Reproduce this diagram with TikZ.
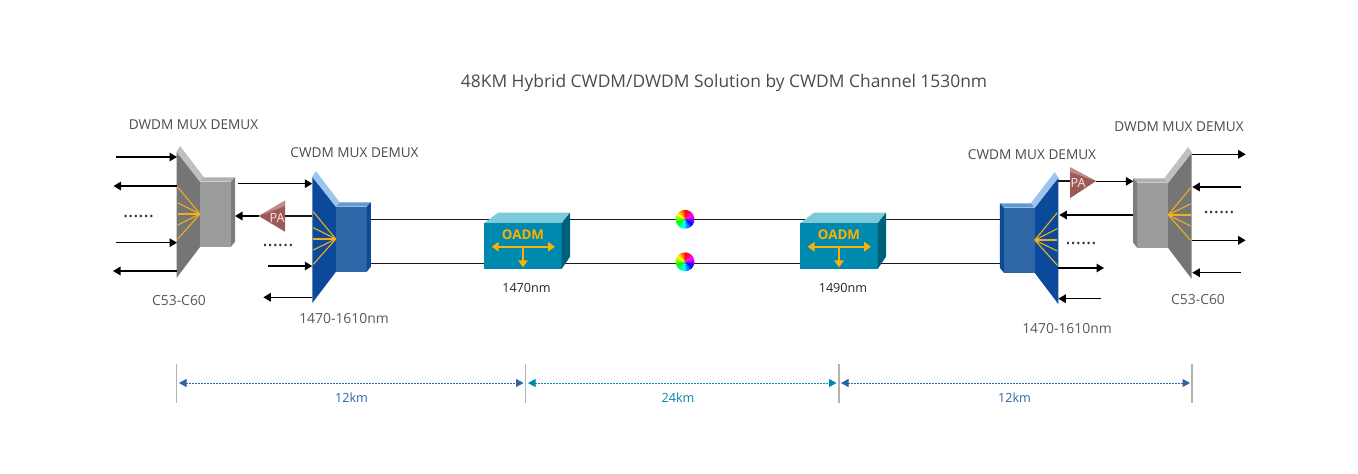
\documentclass[tikz,border=0pt]{standalone}
\usepackage{fontspec}
\setmainfont{Open Sans}
\usetikzlibrary{arrows.meta,calc}
\definecolor{rayc}{HTML}{F2AE1C}
\definecolor{oadmc}{HTML}{FDB100}
\definecolor{oadmt}{HTML}{7CCAD8}
\definecolor{txtc}{HTML}{4A4A4A}
\definecolor{kmblue}{HTML}{2F62A8}
\definecolor{kmteal}{HTML}{0089AE}
\definecolor{greya}{HTML}{757575}
\definecolor{greyb}{HTML}{C0C0C0}
\definecolor{greyc}{HTML}{9B9B9B}
\definecolor{greyd}{HTML}{B0B0B0}
\definecolor{greye}{HTML}{7D7D7D}
\definecolor{bluea}{HTML}{0B4A9A}
\definecolor{blueb}{HTML}{9CC5EE}
\definecolor{bluec}{HTML}{2F66A6}
\definecolor{blued}{HTML}{5F9AD6}
\definecolor{pac}{HTML}{9C5A57}
\definecolor{pad}{HTML}{C08A88}
\tikzset{
	sig/.style={line width=0.3mm, black, -{Triangle[length=1.5mm,width=1.7mm]}},
	fibre/.style={line width=0.35mm, black!90},
	tick/.style={line width=0.25mm, black!30},
	span/.style={line width=0.2mm, dash pattern=on 0.25mm off 0.35mm, {Triangle[length=1.5mm,width=1.6mm]}-{Triangle[length=1.5mm,width=1.6mm]}},
	head/.style={font=\fontsize{7.75}{10}\selectfont, text=txtc, inner sep=0pt},
	note/.style={font=\fontsize{7.9}{10}\selectfont, text=black!65, inner sep=0pt},
	small/.style={font=\fontsize{7.2}{9}\selectfont, inner sep=0pt},
	dots/.style={font=\fontsize{11}{13}\selectfont, text=black!80, inner sep=0pt},
}
% mux box: panel, strip, front, top, side
\def\muxbox[#1](#2)#3#4#5#6#7{
	\begin{scope}[shift={(#2)},#1]
		\fill[#3] (0,0) -- (23.5,30) -- (23.5,95.3) -- (0,126.3) -- cycle;
		\fill[#4] (0,0) -- (3.5,-5.7) -- (27.5,25.6) -- (23.5,30) -- cycle;
		\fill[#5] (23.5,30) rectangle (54.5,95);
		\fill[#6] (23.5,30) -- (27.5,25.6) -- (58.5,25.6) -- (54.5,30) -- cycle;
		\fill[#7] (54.5,30) -- (58.5,25.6) -- (58.5,90) -- (54.5,95) -- cycle;
		\foreach \ry in {35,51,62.3,73.3,87.6}
			\draw[line width=0.22mm, rayc] (23.5,62.3) -- (1,\ry);
	\end{scope}
}
\def\oadmbox(#1)#2{
	\begin{scope}[shift={(#1)}]
		\fill[oadmt] (0,0) -- (14,-10.6) -- (86,-10.6) -- (77.7,0) -- cycle;
		\fill[kmteal] (0,0) rectangle (77.7,45.7);
		\fill[kmteal!70!black] (77.7,0) -- (86,-10.6) -- (86,33.4) -- (77.7,45.7) -- cycle;
		\node[font=\fontsize{7.6}{9}\bfseries\selectfont, text=oadmc, inner sep=0pt] (#2) at (39,11) {OADM};
		\draw[line width=0.35mm, oadmc, {Triangle[length=1.4mm,width=1.9mm]}-{Triangle[length=1.4mm,width=1.9mm]}] (7.7,23.4) -- (71,23.4);
		\draw[line width=0.35mm, oadmc, -{Triangle[length=1.4mm,width=1.9mm]}] (39,23.4) -- (39,44);
	\end{scope}
}
\def\colorwheel(#1){
	\foreach \a in {0,15,...,345}{
		\pgfmathtruncatemacro{\hue}{mod(630-\a,360)}
		\definecolor{wheelc}{Hsb}{\hue,1,1}
		\fill[wheelc] (#1) -- ++(\a:9.4) arc (\a:\a+16:9.4) -- cycle;
	}
}

\begin{document}
\begin{tikzpicture}[x=0.2mm,y=-0.2mm]
	\useasboundingbox (0,0) rectangle (1358,474);

	%%%%% fibres %%%%%
	\coordinate (netla) at (370,219.5);
	\coordinate (netra) at (1001,219.5);
	\coordinate (netlb) at (370,263.5);
	\coordinate (netrb) at (1001,263.5);
	\draw[fibre] (netla) -- (netra);
	\draw[fibre] (netlb) -- (netrb);

	%%%%% boxes %%%%%
	\muxbox[](176.5,151.7){greya}{greyb}{greyc}{greyd}{greye}
	\muxbox[](312.3,176.7){bluea}{blueb}{bluec}{blued}{bluea}
	\muxbox[xscale=-1](1191.7,152.7){greya}{greyb}{greyc}{greyd}{greye}
	\muxbox[xscale=-1](1058.3,177.7){bluea}{blueb}{bluec}{blued}{bluea}
	\oadmbox(484,223.3){oadml}
	\oadmbox(800,223.3){oadmr}

	%%%%% PA %%%%%
	\fill[pac] (258.7,216) -- (285,200.7) -- (285,231.7) -- cycle;
	\fill[pad] (258.7,216) -- (285,200.7) -- (285,206) -- cycle;
	\node[small, text=white!90!red] (pal) at (277,218) {PA};
	\fill[pac] (1096,181) -- (1070,167.3) -- (1070,198.3) -- cycle;
	\fill[pad] (1096,181) -- (1070,167.3) -- (1070,172) -- cycle;
	\node[small, text=white!90!red] (par) at (1078,183) {PA};

	%%%%% arrows %%%%%
	\foreach \n/\xa/\xb/\y in {
		dla/116/177/157, dlb/177/113.5/186, dlc/116/177/242.7, dld/177/113/271,
		cla/238.3/312.3/183.7, clb/312.3/285/216, clc/258.7/235/216, cld/268/312.3/266, cle/312.3/263.3/297.3,
		cra/1058.3/1070/181.3, crb/1096/1133.3/181.3, crc/1133.3/1059.3/215, crd/1058.3/1104/268, cre/1100.7/1058.3/298.7,
		dra/1191.7/1245.7/154.3, drb/1240.7/1192.3/187, drc/1191.7/1245.7/240.3, drd/1240.7/1192.3/272.7}{
		\coordinate (\n s) at (\xa,\y);
		\coordinate (\n e) at (\xb,\y);
	}
	\foreach \n in {dla,dlb,dlc,dld,cla,clc,cld,cle,crb,crc,crd,cre,dra,drb,drc,drd}
		\draw[sig] (\n s) -- (\n e);
	\draw[fibre] (clbs) -- (clbe);
	\draw[fibre] (cras) -- (crae);

	%%%%% wheels %%%%%
	\colorwheel(685,219.3)
	\colorwheel(685,261.8)

	%%%%% scale %%%%%
	\foreach \n/\x in {ta/176.7,tb/525.7,tc/839,td/1192}{
		\coordinate (\n u) at (\x,364.3);
		\coordinate (\n d) at (\x,402.7);
		\draw[tick] (\n u) -- (\n d);
	}
	\coordinate (spa) at (179,383);
	\coordinate (spb) at (523.5,383);
	\coordinate (spc) at (528,383);
	\coordinate (spd) at (836.5,383);
	\coordinate (spe) at (841,383);
	\coordinate (spf) at (1190,383);
	\draw[span, kmblue] (spa) -- (spb);
	\draw[span, kmteal] (spc) -- (spd);
	\draw[span, kmblue] (spe) -- (spf);

	%%%%% text %%%%%
	\node[font=\fontsize{9.9}{13}\selectfont, text=txtc, inner sep=0pt] (title) at (724,83) {48KM Hybrid CWDM/DWDM Solution by CWDM Channel 1530nm};
	\node[head] (dwl) at (193.5,124.5) {DWDM MUX DEMUX};
	\node[head] (cwl) at (354.5,152.5) {CWDM MUX DEMUX};
	\node[head] (cwr) at (1032,154.5) {CWDM MUX DEMUX};
	\node[head] (dwr) at (1179,126.5) {DWDM MUX DEMUX};
	\node[note] (cnl) at (179,300.5) {C53-C60};
	\node[note] (cnr) at (1198,299.5) {C53-C60};
	\node[note] (nml) at (344,319) {1470-1610nm};
	\node[note] (nmr) at (1067,329) {1470-1610nm};
	\node[small, text=black!85] (nma) at (526.5,287.5) {1470nm};
	\node[small, text=black!85] (nmb) at (843,287.5) {1490nm};
	\node[small, text=kmblue] (kma) at (351.5,397.5) {12km};
	\node[small, text=kmteal] (kmb) at (678,397.5) {24km};
	\node[small, text=kmblue] (kmc) at (1014.5,397.5) {12km};
	\node[dots] (dta) at (138.5,216.5) {......};
	\node[dots] (dtb) at (278,245) {......};
	\node[dots] (dtc) at (1081,243) {......};
	\node[dots] (dtd) at (1219,212) {......};
\end{tikzpicture}
\end{document}
